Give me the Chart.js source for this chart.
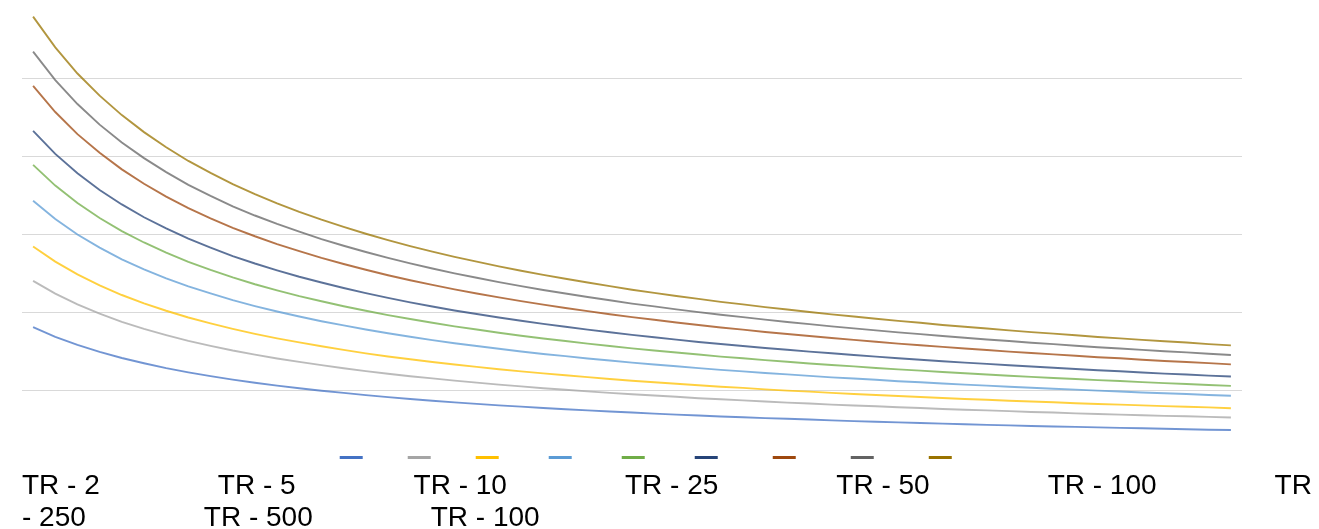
<!DOCTYPE html>
<html>
<head>
<meta charset="utf-8">
<script src="https://cdn.jsdelivr.net/npm/chart.js@4.4.1/dist/chart.umd.min.js"></script>
<style>
  html, body { margin: 0; padding: 0; background: #fff; }
  #wrap { position: relative; width: 1319px; height: 529px; overflow: hidden; }
  #grafico { position: absolute; left: 0; top: 0; }
  #leyenda {
    position: absolute; left: 22px; right: 0; top: 469px;
    font-family: "Liberation Sans", Arial, sans-serif; font-size: 28px; line-height: 32px;
    color: #000;
  }
  #leyenda span { margin-right: 118px; }
</style>
</head>
<body>
<div id="wrap">
  <canvas id="grafico" width="1319" height="529"></canvas>
  <div id="leyenda"></div>
</div>
<script>
// duraciones (min) en el eje x
const duraciones = [5, 10, 15, 20, 25, 30, 35, 40, 45, 50, 55, 60, 65, 70, 75, 80, 85, 90, 95, 100,
  105, 110, 115, 120, 125, 130, 135, 140, 145, 150, 155, 160, 165, 170, 175, 180, 185, 190, 195, 200,
  205, 210, 215, 220, 225, 230, 235, 240, 245, 250, 255, 260, 265, 270, 275];

const etiquetas = ["TR - 2", "TR - 5", "TR - 10", "TR - 25", "TR - 50", "TR - 100", "TR - 250", "TR - 500", "TR - 100"];
const colores = ["#4472C4", "#A5A5A5", "#FFC000", "#5B9BD5", "#70AD47", "#264478", "#9E480E", "#636363", "#997300"];

// intensidades
const tr2 = [90.8, 84.6, 79.4, 74.9, 71.0, 67.6, 64.5, 61.8, 59.4, 57.1, 55.1, 53.3, 51.6, 50.0, 48.6, 47.2, 45.9, 44.7, 43.6, 42.5,
  41.6, 40.6, 39.8, 38.9, 38.1, 37.4, 36.7, 36.0, 35.3, 34.7, 34.1, 33.5, 33.0, 32.4, 32.0, 31.5, 31.0, 30.5, 30.1, 29.7,
  29.3, 28.9, 28.5, 28.1, 27.8, 27.4, 27.1, 26.8, 26.5, 26.2, 25.9, 25.6, 25.3, 25.0, 24.8];
const tr5 = [120.5, 112.3, 105.4, 99.4, 94.2, 89.7, 85.7, 82.0, 78.8, 75.8, 73.2, 70.7, 68.5, 66.4, 64.4, 62.6, 60.9, 59.3, 57.9, 56.5,
  55.2, 53.9, 52.8, 51.6, 50.6, 49.6, 48.6, 47.7, 46.9, 46.1, 45.2, 44.5, 43.8, 43.1, 42.4, 41.8, 41.1, 40.5, 40.0, 39.4,
  38.9, 38.3, 37.8, 37.4, 36.9, 36.4, 36.0, 35.5, 35.1, 34.7, 34.3, 33.9, 33.6, 33.2, 32.8];
const tr10 = [142.5, 132.8, 124.6, 117.6, 111.4, 106.1, 101.3, 97.0, 93.2, 89.7, 86.5, 83.6, 81.0, 78.5, 76.2, 74.0, 72.0, 70.2, 68.4, 66.8,
  65.3, 63.8, 62.4, 61.1, 59.9, 58.7, 57.5, 56.4, 55.4, 54.5, 53.5, 52.6, 51.8, 50.9, 50.1, 49.4, 48.6, 47.9, 47.3, 46.6,
  46.0, 45.3, 44.7, 44.2, 43.6, 43.1, 42.6, 42.0, 41.5, 41.1, 40.6, 40.1, 39.7, 39.3, 38.8];
const tr25 = [171.8, 160.1, 150.2, 141.8, 134.3, 127.9, 122.1, 117.0, 112.4, 108.1, 104.3, 100.8, 97.6, 94.6, 91.9, 89.3, 86.9, 84.6, 82.5, 80.5,
  78.7, 76.9, 75.2, 73.6, 72.2, 70.7, 69.4, 68.0, 66.8, 65.7, 64.5, 63.4, 62.4, 61.4, 60.5, 59.5, 58.6, 57.8, 57.0, 56.1,
  55.4, 54.6, 53.9, 53.3, 52.6, 51.9, 51.3, 50.7, 50.1, 49.5, 48.9, 48.4, 47.9, 47.3, 46.8];
const tr50 = [194.9, 181.6, 170.4, 160.8, 152.4, 145.1, 138.6, 132.7, 127.5, 122.7, 118.3, 114.4, 110.7, 107.4, 104.2, 101.3, 98.5, 96.0, 93.6, 91.3,
  89.3, 87.2, 85.3, 83.5, 81.9, 80.2, 78.7, 77.2, 75.8, 74.5, 73.2, 71.9, 70.8, 69.6, 68.6, 67.5, 66.5, 65.6, 64.6, 63.7,
  62.9, 62.0, 61.2, 60.4, 59.6, 58.9, 58.2, 57.5, 56.8, 56.2, 55.5, 54.9, 54.3, 53.7, 53.1];
const tr100 = [216.7, 201.9, 189.5, 178.8, 169.5, 161.3, 154.1, 147.5, 141.8, 136.4, 131.6, 127.2, 123.1, 119.4, 115.9, 112.6, 109.6, 106.7, 104.0, 101.5,
  99.2, 97.0, 94.9, 92.9, 91.0, 89.2, 87.5, 85.8, 84.3, 82.8, 81.3, 80.0, 78.7, 77.4, 76.3, 75.1, 74.0, 72.9, 71.9, 70.8,
  69.9, 68.9, 68.0, 67.2, 66.3, 65.5, 64.7, 63.9, 63.1, 62.5, 61.7, 61.0, 60.4, 59.7, 59.1];
const tr250 = [245.5, 228.8, 214.6, 202.6, 192.0, 182.8, 174.5, 167.1, 160.6, 154.5, 149.1, 144.1, 139.5, 135.2, 131.3, 127.6, 124.1, 120.9, 117.9, 115.0,
  112.4, 109.9, 107.5, 105.2, 103.1, 101.1, 99.1, 97.2, 95.5, 93.8, 92.2, 90.6, 89.2, 87.7, 86.4, 85.1, 83.8, 82.6, 81.4, 80.2,
  79.2, 78.1, 77.1, 76.1, 75.1, 74.2, 73.3, 72.4, 71.5, 70.8, 69.9, 69.1, 68.4, 67.7, 66.9];
const tr500 = [267.5, 249.3, 233.9, 220.7, 209.2, 199.2, 190.2, 182.1, 175.0, 168.3, 162.4, 157.0, 152.0, 147.3, 143.0, 139.0, 135.2, 131.7, 128.4, 125.3,
  122.5, 119.7, 117.1, 114.6, 112.4, 110.1, 108.0, 105.9, 104.1, 102.2, 100.4, 98.7, 97.2, 95.6, 94.1, 92.7, 91.3, 90.0, 88.7, 87.4,
  86.3, 85.1, 84.0, 82.9, 81.9, 80.8, 79.9, 78.9, 77.9, 77.1, 76.2, 75.3, 74.6, 73.7, 72.9];
const tr1000 = [290.0, 270.3, 253.5, 239.3, 226.8, 215.9, 206.2, 197.4, 189.7, 182.5, 176.1, 170.2, 164.7, 159.7, 155.1, 150.7, 146.6, 142.8, 139.2, 135.9,
  132.8, 129.8, 127.0, 124.3, 121.8, 119.4, 117.1, 114.8, 112.8, 110.8, 108.9, 107.0, 105.4, 103.6, 102.1, 100.5, 99.0, 97.6, 96.2, 94.8,
  93.6, 92.2, 91.0, 89.9, 88.7, 87.6, 86.6, 85.6, 84.5, 83.6, 82.6, 81.7, 80.9, 79.9, 79.1];

const series = [tr2, tr5, tr10, tr25, tr50, tr100, tr250, tr500, tr1000];

// texto de la leyenda
const leyenda = document.getElementById("leyenda");
leyenda.innerHTML = etiquetas.map(t => `<span>${t}</span>`).join("");

const ctx = document.getElementById("grafico").getContext("2d");
new Chart(ctx, {
  type: "line",
  data: {
    labels: duraciones,
    datasets: series.map((s, i) => ({
      label: etiquetas[i],
      data: s,
      borderColor: colores[i] + "c0",
      backgroundColor: colores[i],
      borderWidth: 1.9,
      pointRadius: 0,
      tension: 0,
      fill: false
    }))
  },
  options: {
    responsive: false,
    devicePixelRatio: 1,
    animation: false,
    layout: { padding: { left: 12, right: 0, top: 1, bottom: 57 } },
    plugins: {
      tooltip: { enabled: false },
      legend: {
        position: "bottom",
        labels: {
          boxWidth: 23,
          boxHeight: 3,
          padding: 15.5,
          color: "rgba(0,0,0,0)",
          font: { family: "Liberation Sans", size: 9 },
          generateLabels: chart =>
            Chart.defaults.plugins.legend.labels.generateLabels(chart).map(l => ({ ...l, lineWidth: 0 }))
        }
      }
    },
    scales: {
      x: { type: "category", offset: true, display: false },
      y: {
        min: 20,
        max: 300,
        border: { display: false },
        ticks: { display: false, stepSize: 50, includeBounds: false },
        grid: {
          drawTicks: false,
          lineWidth: 1,
          color: c => (c.tick && c.tick.value > 0 && c.tick.value < 300) ? "#d9d9d9" : "rgba(0,0,0,0)"
        },
        afterFit: s => { s.width = 10; }
      },
      y2: {
        position: "right",
        grid: { display: false, drawTicks: false },
        border: { display: false },
        ticks: { display: false },
        afterFit: s => { s.width = 77; }
      }
    }
  }
});
</script>
</body>
</html>
